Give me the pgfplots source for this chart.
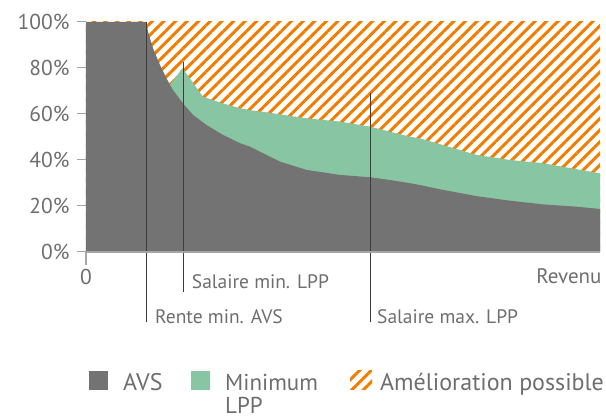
\documentclass[border=0pt]{standalone}
\usepackage{fontspec}
\setmainfont{PT Sans}
\usepackage{pgfplots}
\pgfplotsset{compat=1.18}
\usetikzlibrary{patterns.meta}
\definecolor{avsgray}{HTML}{737373}
\definecolor{lppgreen}{HTML}{88C5A2}
\definecolor{orng}{HTML}{F07D00}
\definecolor{txtgray}{HTML}{6E6E6E}
\definecolor{axgray}{HTML}{A5A5A5}
\definecolor{linegray}{HTML}{3C3C3C}
\begin{document}
\begin{tikzpicture}
\path[use as bounding box] (0pt,0pt) rectangle (606pt,417pt);
\begin{axis}[
  at={(86pt,165pt)}, anchor=south west,
  scale only axis, width=514pt, height=230pt,
  xmin=0, xmax=514, ymin=0, ymax=100,
  clip=false, axis on top,
  axis x line=bottom, axis y line=left,
  axis line style={-},
  x axis line style={draw=axgray, line width=1.3pt},
  y axis line style={draw=none},
  xtick={0}, xticklabels={0},
  ytick={0,20,40,60,80,100},
  yticklabel={\pgfmathprintnumber{\tick}\%},
  /pgf/number format/assume math mode=true,
  tick align=outside,
  major tick length=9pt,
  tick style={draw=axgray, line width=1pt},
  xtick style={/pgfplots/major tick length=13pt, line width=1.3pt},
  tick label style={font=\fontsize{21.5}{25}\selectfont, text=txtgray},
  yticklabel style={xshift=-4pt},
  xticklabel style={yshift=-5pt},
]
% Amelioration possible (hatched, drawn below the other areas)
\addplot[draw=none, pattern={Lines[angle=45,distance=8.2pt,line width=3pt]}, pattern color=orng]
  coordinates {(0,100) (514,100)} \closedcycle;
% Minimum LPP
\addplot[draw=none, fill=lppgreen] coordinates {
(84,72.7)(96.5,79.9)(117,67.5)(137,64.6)(154,62.5)(164,61.7)(187,60.3)(220.5,58.1)
(254,56.7)(284,54.5)(304,52.3)(324,50.1)(334,49.4)(357,46.5)(390.5,42.2)(424,40)
(457,38.6)(490.5,36)(514,34.2)} \closedcycle;
% AVS
\addplot[draw=none, fill=avsgray] coordinates {
(0,100)(60.5,100)(62,95.8)(67,88.6)(74,81.3)(80.5,75.5)(87,70.4)(97,64.6)(107,59.6)
(120.5,55.2)(137,50.9)(154,47.3)(164,45.8)(174,43.6)(194,39.3)(220.5,35.7)(254,33.5)
(284,32.5)(304,31.3)(324,29.9)(334,29.1)(357,27)(390.5,24.3)(424,22.3)(457,20.7)
(490.5,19.7)(514,18.7)} \closedcycle;
% reference lines
\addplot[linegray, line width=0.9pt] coordinates {(60.5,100)(60.5,-30.4)};
\addplot[linegray, line width=0.9pt] coordinates {(97,82.6)(97,-17.4)};
\addplot[linegray, line width=0.9pt] coordinates {(284,69.1)(284,-30.4)};
\node[anchor=base west, inner sep=0pt, text=txtgray, font=\fontsize{19.5}{22}\selectfont] at (axis cs:105.7,-15.8) {Salaire min. LPP};
\node[anchor=base west, inner sep=0pt, text=txtgray, font=\fontsize{19.5}{22}\selectfont] at (axis cs:69,-30.9) {Rente min. AVS};
\node[anchor=base west, inner sep=0pt, text=txtgray, font=\fontsize{19.5}{22}\selectfont] at (axis cs:291,-30.9) {Salaire max. LPP};
\node[anchor=base east, inner sep=0pt, text=txtgray, font=\fontsize{21}{24}\selectfont] at (axis cs:515.7,-13.5) {Revenu};
\end{axis}
% legend
\fill[avsgray] (89pt,27pt) rectangle (108pt,46pt);
\node[anchor=base west, inner sep=0pt, text=txtgray, font=\fontsize{24}{27}\selectfont] at (123pt,26.7pt) {AVS};
\fill[lppgreen] (191pt,27pt) rectangle (210pt,46pt);
\node[anchor=base west, inner sep=0pt, align=left, text=txtgray, font=\fontsize{23}{23}\selectfont] at (225pt,3.7pt) {Minimum\\LPP};
\fill[pattern={Lines[angle=45,distance=8.2pt,line width=3pt]}, pattern color=orng] (350pt,27pt) rectangle (372pt,46pt);
\node[anchor=base west, inner sep=0pt, text=txtgray, font=\fontsize{24}{27}\selectfont] at (380pt,26.7pt) {Amélioration possible};
\end{tikzpicture}
\end{document}
